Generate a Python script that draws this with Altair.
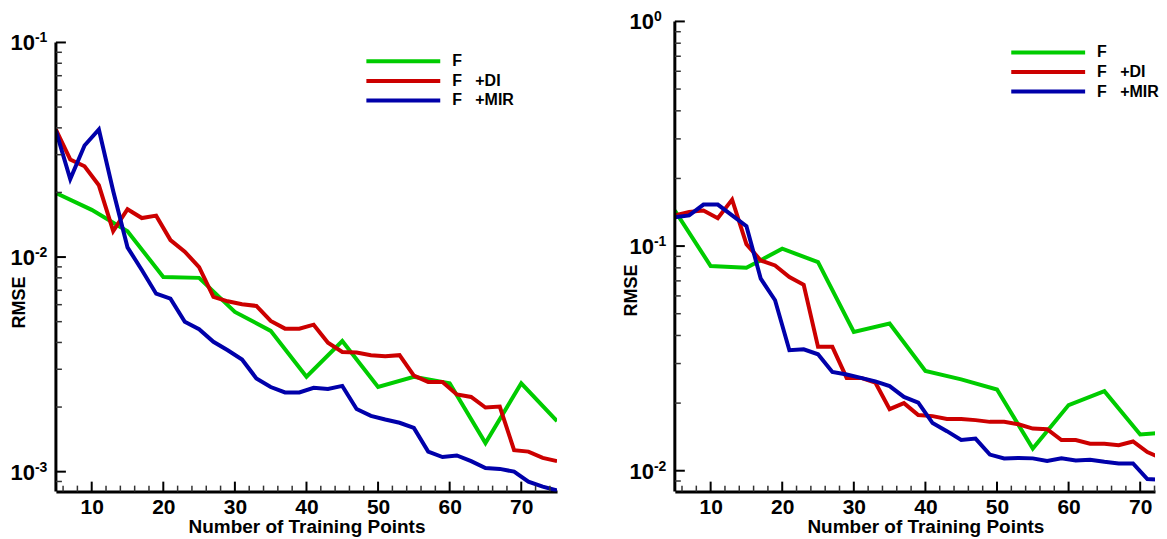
import altair as alt
import pandas as pd

FONT = "Liberation Sans"

# ---------------- data ----------------
x_every2 = list(range(5, 76, 2))
x_every5 = list(range(5, 76, 5))

series_names = ["F", "F\u00a0\u00a0\u00a0+DI", "F\u00a0\u00a0\u00a0+MIR"]
series_colors = ["#00cc00", "#cc0000", "#0000aa"]

# left panel
left_F = [0.0199, 0.0166, 0.0132, 0.00807, 0.0080, 0.00555, 0.00453, 0.00277,
          0.00406, 0.00248, 0.00277, 0.00258, 0.00136, 0.00258, 0.00172]
left_DI = [0.0393, 0.0285, 0.0265, 0.0216, 0.0132, 0.0167, 0.0152, 0.0156, 0.0120, 0.0106,
           0.00897, 0.00652, 0.00622, 0.00603, 0.00592, 0.00504, 0.00464, 0.00464, 0.00484, 0.00399,
           0.00361, 0.00359, 0.00349, 0.00345, 0.00349, 0.00280, 0.00262, 0.00262, 0.00229, 0.00223,
           0.00199, 0.00201, 0.00126, 0.00124, 0.00116, 0.00112]
left_MIR = [0.0388, 0.0231, 0.0331, 0.0393, 0.0203, 0.0111, 0.0087, 0.00675, 0.00640, 0.00499,
            0.00461, 0.00403, 0.00368, 0.00333, 0.00272, 0.00248, 0.00234, 0.00234, 0.00246, 0.00243,
            0.00251, 0.00196, 0.00182, 0.00175, 0.00169, 0.00160, 0.00124, 0.00117, 0.00119, 0.00112,
            0.00104, 0.00103, 0.00100, 0.000898, 0.000851, 0.000817]

# right panel
right_F = [0.144, 0.0815, 0.0801, 0.0973, 0.0849, 0.0415, 0.0452, 0.0278,
           0.0255, 0.0230, 0.01256, 0.0196, 0.0226, 0.0145, 0.0149]
right_DI = [0.137, 0.142, 0.144, 0.133, 0.161, 0.102, 0.0863, 0.0820, 0.0728, 0.0673,
            0.0356, 0.0356, 0.0259, 0.0259, 0.0247, 0.0188, 0.0200, 0.0177, 0.0175, 0.0170,
            0.0170, 0.0168, 0.0165, 0.0165, 0.0161, 0.0154, 0.0153, 0.0137, 0.0137, 0.0132,
            0.0132, 0.0130, 0.0135, 0.0121, 0.01135, 0.0108]
right_MIR = [0.1345, 0.137, 0.153, 0.153, 0.137, 0.1227, 0.0716, 0.0574, 0.0344, 0.0347,
             0.0330, 0.0275, 0.0268, 0.0259, 0.0250, 0.0238, 0.0213, 0.0201, 0.0163, 0.0150,
             0.0137, 0.0139, 0.0118, 0.01135, 0.0114, 0.01135, 0.01104, 0.01135, 0.0111, 0.0112,
             0.01096, 0.01078, 0.01078, 0.00918, 0.0091, 0.0090]

# ticks / labels
x_major = [10, 20, 30, 40, 50, 60, 70]
x_minor_left = [6, 8, 12, 14, 16, 18, 22, 24, 26, 28, 32, 34, 36, 38, 42, 44, 46, 48,
                52, 54, 56, 58, 62, 64, 66, 68, 72, 74]
x_minor_right = [v for v in x_minor_left if v <= 72]

left_y_major = [0.1, 0.01, 0.001]
left_y_exp = ["-1", "-2", "-3"]
left_y_minor = [0.09, 0.08, 0.07, 0.06, 0.05, 0.04, 0.03, 0.02,
                0.009, 0.008, 0.007, 0.006, 0.005, 0.004, 0.003, 0.002, 0.0009]
right_y_major = [1.0, 0.1, 0.01]
right_y_exp = ["0", "-1", "-2"]
right_y_minor = [0.9, 0.8, 0.7, 0.6, 0.5, 0.4, 0.3, 0.2,
                 0.09, 0.08, 0.07, 0.06, 0.05, 0.04, 0.03, 0.02, 0.009]

H = 471


def make_panel(F, DI, MIR, ydom, ytop, xmax, width, y_major, y_exp, y_minor, x_minor,
               legend_x, legend_y, rmse_x, rmse_y):
    df = pd.concat([
        pd.DataFrame({"x": x_every5, "rmse": F, "series": series_names[0]}),
        pd.DataFrame({"x": x_every2, "rmse": DI, "series": series_names[1]}),
        pd.DataFrame({"x": x_every2, "rmse": MIR, "series": series_names[2]}),
    ])
    xs = alt.Scale(domain=[5, xmax], nice=False, zero=False)
    ys = alt.Scale(type="log", domain=ydom, nice=False)
    color = alt.Color("series:N", scale=alt.Scale(domain=series_names, range=series_colors),
                      legend=None)
    x_axis = alt.Axis(values=x_major, ticks=False, grid=False, domainWidth=3, domainColor="black",
                      labelFont=FONT, labelFontSize=21, labelFontWeight="bold", labelColor="black",
                      labelPadding=5, labelFlush=False,
                      title="Number of Training Points", titleFont=FONT, titleFontSize=19,
                      titleFontWeight="bold", titleColor="black", titleX=251, titleY=35,
                      titleAlign="center", titleBaseline="middle")
    y_axis = alt.Axis(labels=False, ticks=False, grid=False, domain=False,
                      title="RMSE", titleFont=FONT, titleFontSize=18, titleFontWeight="bold",
                      titleColor="black", titleX=rmse_x, titleY=rmse_y, titleAngle=270,
                      titleAlign="center", titleBaseline="middle")
    X = alt.X("x:Q", scale=xs, axis=x_axis)
    lines = alt.Chart(df).mark_line(strokeWidth=4, clip=True).encode(
        x=X,
        y=alt.Y("rmse:Q", scale=ys, axis=y_axis),
        color=color,
    )
    yline = alt.Chart(pd.DataFrame({"rmse": [ytop]})).mark_rule(strokeWidth=3, color="black").encode(
        x=alt.value(0), y=alt.Y("rmse:Q"), y2=alt.value(H))
    ymaj = alt.Chart(pd.DataFrame({"rmse": y_major})).mark_rule(strokeWidth=2, color="black").encode(
        x=alt.value(0), x2=alt.value(10), y=alt.Y("rmse:Q"))
    ymin = alt.Chart(pd.DataFrame({"rmse": y_minor})).mark_rule(strokeWidth=1.5, color="#333333").encode(
        x=alt.value(0), x2=alt.value(6), y=alt.Y("rmse:Q"))
    xmaj = alt.Chart(pd.DataFrame({"x": x_major})).mark_rule(strokeWidth=2, color="black").encode(
        x=alt.X("x:Q"), y=alt.value(H), y2=alt.value(H - 10))
    xmin = alt.Chart(pd.DataFrame({"x": x_minor})).mark_rule(strokeWidth=1.5, color="#333333").encode(
        x=alt.X("x:Q"), y=alt.value(H), y2=alt.value(H - 6))
    lab_df = pd.DataFrame({"rmse": y_major, "e": y_exp})
    ylab10 = alt.Chart(lab_df).mark_text(align="right", baseline="middle", dx=-21, dy=1,
                                         font=FONT, fontSize=22, fontWeight="bold",
                                         color="black").encode(
        x=alt.value(0), y=alt.Y("rmse:Q"), text=alt.value("10"))
    ylabexp = alt.Chart(lab_df).mark_text(align="left", baseline="middle", dx=-21, dy=-4,
                                          font=FONT, fontSize=14, fontWeight="bold",
                                          color="black").encode(
        x=alt.value(0), y=alt.Y("rmse:Q"), text="e:N")
    layers = [lines, yline, ymaj, ymin, xmaj, xmin, ylab10, ylabexp]
    for i, name in enumerate(series_names):
        ldf = pd.DataFrame({"series": [name]})
        ly = legend_y + i * 19.6
        layers.append(alt.Chart(ldf).mark_rule(strokeWidth=4).encode(
            x=alt.value(legend_x), x2=alt.value(legend_x + 74), y=alt.value(ly), color=color))
        layers.append(alt.Chart(ldf).mark_text(align="left", baseline="middle", font=FONT,
                                               fontSize=16, fontWeight="bold", color="black").encode(
            x=alt.value(legend_x + 86), y=alt.value(ly), text="series:N"))
    return alt.layer(*layers).properties(width=width, height=H)


left = make_panel(left_F, left_DI, left_MIR, [10 ** -3.093, 10 ** -0.902], 0.1, 75, 502,
                  left_y_major, left_y_exp, left_y_minor, x_minor_left,
                  311, 40, -36, 281)
right = make_panel(right_F, right_DI, right_MIR, [10 ** -2.093, 1.0], 1.0, 72.07, 481,
                   right_y_major, right_y_exp, right_y_minor, x_minor_right,
                   337, 31, -43, 269)

chart = alt.hconcat(left, right, spacing=118, bounds="flush").resolve_scale(
    x="independent", y="independent", color="shared"
).configure_view(stroke=None).properties(
    padding={"left": 2, "top": 2, "right": 0, "bottom": 0}
)

chart.save("out.html", embed_options={"renderer": "svg", "actions": False})
